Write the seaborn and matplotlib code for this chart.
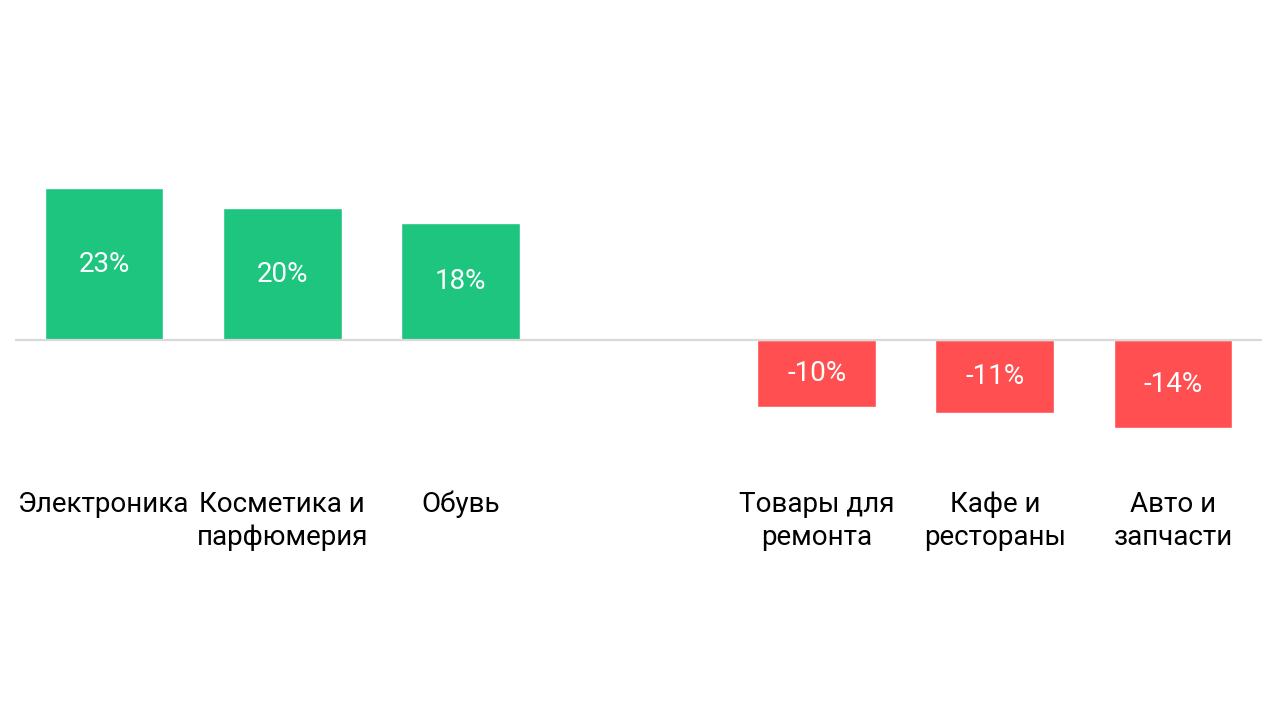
import numpy as np
import pandas as pd
import matplotlib
matplotlib.use('Agg')
import matplotlib.pyplot as plt
import matplotlib.transforms as mtransforms
import seaborn as sns

categories = ['Электроника', 'Косметика и\nпарфюмерия', 'Обувь', ' ',
              'Товары для\nремонта', 'Кафе и\nрестораны', 'Авто и\nзапчасти']
values = [23, 20, 17.7, np.nan, -10.1, -11, -13.4]
value_labels = ['23%', '20%', '18%', '', '-10%', '-11%', '-14%']

green = '#1DC57F'
red = '#FF4F51'

df = pd.DataFrame({'category': categories, 'value': values})
colors = [red if v < 0 else green for v in values]
palette = dict(zip(categories, colors))

sns.set_theme(style='white')
plt.rcParams['font.family'] = ['Roboto', 'DejaVu Sans']

fig = plt.figure(figsize=(12.8, 7.2), dpi=100)
ax = fig.add_axes([15 / 1280, 0, 1247 / 1280, 1])

sns.barplot(data=df, x='category', y='value', hue='category', order=categories,
            palette=palette, width=0.667, legend=False, saturation=1, ax=ax)

px_per_unit = 6.6
ax.set_xlim(-0.5, len(categories) - 0.5)
ax.set_ylim(-380 / px_per_unit, 340 / px_per_unit)
ax.axhline(0, color='#d9d9d9', lw=1.6, zorder=3)

for i, (v, lab) in enumerate(zip(values, value_labels)):
    if lab:
        ax.text(i, v / 2, lab, ha='center', va='center', color='white', fontsize=20)

# category names under the chart, one text per line
trans = mtransforms.blended_transform_factory(ax.transData, ax.transAxes)
for i, cat in enumerate(categories):
    for j, line in enumerate(cat.split('\n')):
        ax.text(i, 1 - (512 + 33 * j) / 720, line, ha='center', va='baseline',
                fontsize=20, color='black', transform=trans)

ax.set_xticks([])
ax.set_yticks([])
ax.set_xlabel('')
ax.set_ylabel('')
sns.despine(ax=ax, left=True, bottom=True)

fig.savefig('out.png', dpi=100)
